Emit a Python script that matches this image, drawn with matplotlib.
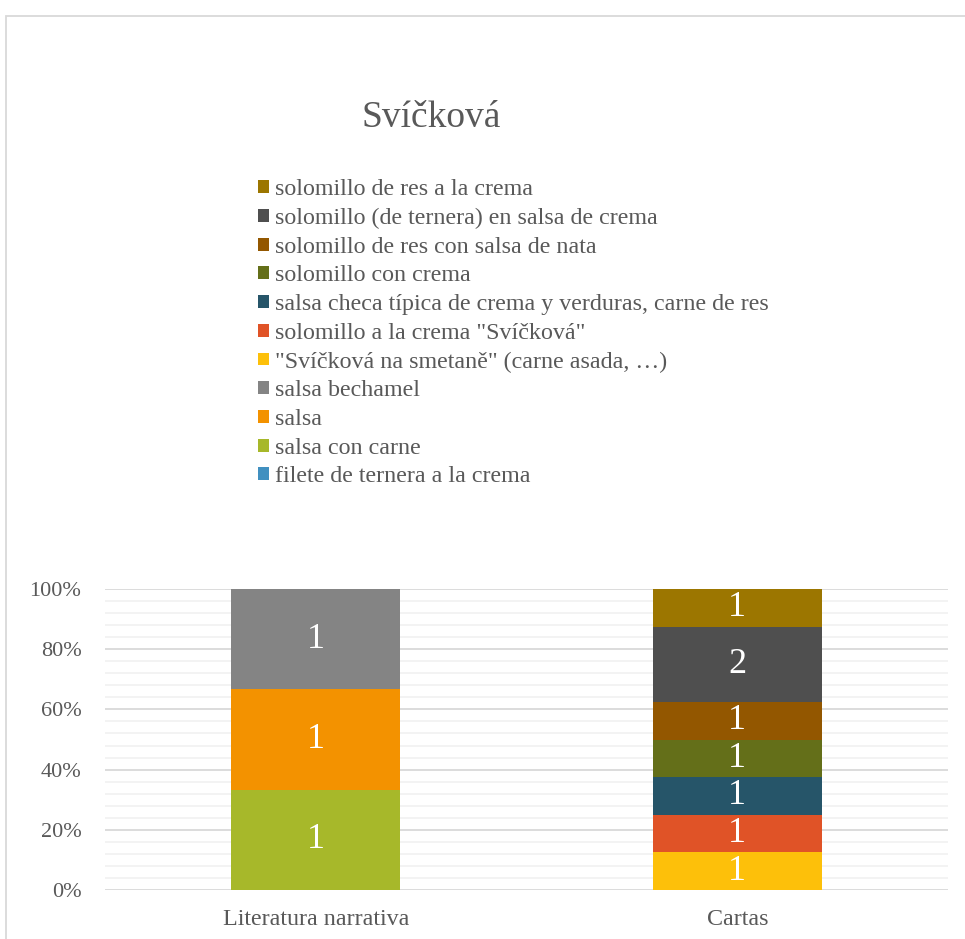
import matplotlib.pyplot as plt
from matplotlib.patches import Rectangle
from matplotlib.ticker import MultipleLocator, PercentFormatter

plt.rcParams['font.family'] = 'serif'
plt.rcParams['font.serif'] = ['Liberation Serif', 'DejaVu Serif']

categories = ['Literatura narrativa', 'Cartas']
series = [
    'filete de ternera a la crema',
    'salsa con carne',
    'salsa',
    'salsa bechamel',
    '"Svíčková na smetaně" (carne asada, …)',
    'solomillo a la crema "Svíčková"',
    'salsa checa típica de crema y verduras, carne de res',
    'solomillo con crema',
    'solomillo de res con salsa de nata',
    'solomillo (de ternera) en salsa de crema',
    'solomillo de res a la crema',
]
literatura = [0, 1, 1, 1, 0, 0, 0, 0, 0, 0, 0]
cartas = [0, 0, 0, 0, 1, 1, 1, 1, 1, 2, 1]
colors = ['#4190C0', '#A7B82A', '#F39200', '#848484', '#FDC00A', '#E05327',
          '#265569', '#646F19', '#935700', '#4F4F4F', '#9C7600']

grey = '#595959'
fig = plt.figure(figsize=(9.65, 9.39), dpi=100)
ax = fig.add_axes([0.1088, 0.0522, 0.8736, 0.3205])

tot_l = sum(literatura)
tot_c = sum(cartas)
bottoms = [0.0, 0.0]
for name, vl, vc, col in zip(series, literatura, cartas, colors):
    h = [vl / tot_l * 100, vc / tot_c * 100]
    bars = ax.bar([0, 1], h, 0.4, bottom=bottoms, color=col, label=name, linewidth=0, zorder=3)
    ax.bar_label(bars, labels=[str(v) if v else '' for v in (vl, vc)],
                 label_type='center', color='white', fontsize=26)
    bottoms = [bottoms[0] + h[0], bottoms[1] + h[1]]

ax.set_xlim(-0.5, 1.5)
ax.set_ylim(0, 100)
ax.set_xticks([0, 1])
ax.set_xticklabels(categories)
ax.yaxis.set_major_locator(MultipleLocator(20))
ax.yaxis.set_minor_locator(MultipleLocator(4))
ax.yaxis.set_major_formatter(PercentFormatter(decimals=0))
ax.grid(which='major', axis='y', color='#D9D9D9', linewidth=1.3, zorder=0)
ax.grid(which='minor', axis='y', color='#F2F2F2', linewidth=1.3, zorder=0)
ax.tick_params(which='both', length=0, colors=grey)
ax.tick_params(axis='y', pad=17, labelsize=16)
ax.tick_params(axis='x', pad=14, labelsize=17.3)
for s in ax.spines.values():
    s.set_visible(False)

fig.text(0.447, 0.875, 'Svíčková', fontsize=27, color=grey, ha='center', va='center')

h, l = ax.get_legend_handles_labels()
fig.legend(h[::-1], l[::-1], loc='upper left', bbox_to_anchor=(0.2577, 0.8195),
           frameon=False, fontsize=17.3, labelcolor=grey,
           handlelength=0.45, handleheight=0.45, handletextpad=0.25, labelspacing=0.32,
           borderaxespad=0)

fig.patches.append(Rectangle((5.5 / 965, -0.1), 1.2, 1 - 15.5 / 939 + 0.1,
                             transform=fig.transFigure, fill=False,
                             edgecolor='#D9D9D9', linewidth=1.3))

fig.savefig('out.png', dpi=100)
